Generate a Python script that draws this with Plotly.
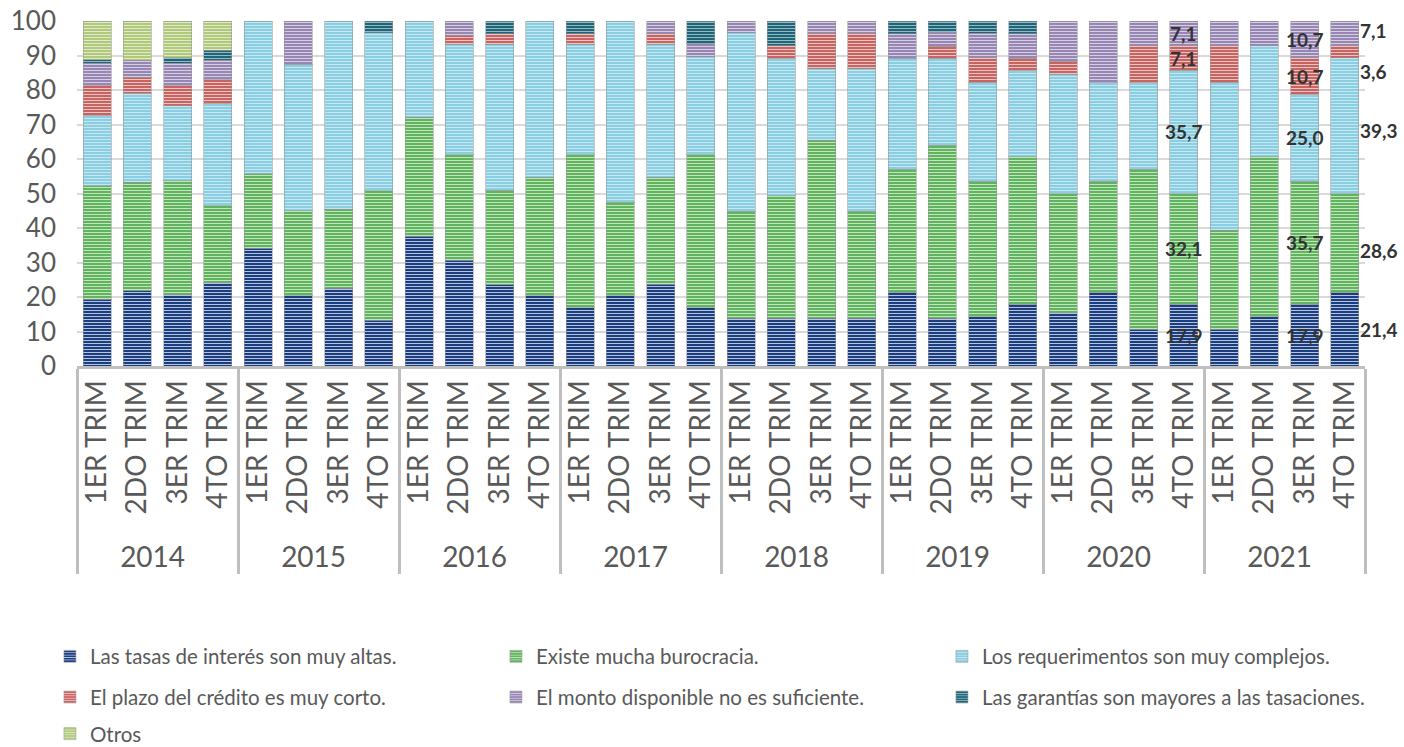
import plotly.graph_objects as go

# Categories
years = ["2014", "2015", "2016", "2017", "2018", "2019", "2020", "2021"]
quarters = ["1ER TRIM", "2DO TRIM", "3ER TRIM", "4TO TRIM"]

# Shares (%) per quarter, one list per reason
tasas = [19.4, 21.8, 20.6, 24.2,
         34.2, 20.3, 22.6, 13.3,
         37.6, 30.7, 23.5, 20.3,
         16.9, 20.3, 23.7, 16.9,
         13.8, 13.9, 13.8, 13.8,
         21.4, 13.9, 14.3, 17.9,
         15.4, 21.4, 10.7, 17.9,
         10.7, 14.3, 17.9, 21.4]
burocracia = [32.9, 31.4, 33.1, 22.3,
              21.5, 24.7, 22.9, 37.5,
              34.5, 30.6, 27.5, 34.4,
              44.4, 27.1, 31.0, 44.4,
              31.0, 35.5, 51.7, 31.0,
              35.7, 50.1, 39.3, 42.7,
              34.6, 32.1, 46.4, 32.1,
              28.6, 46.4, 35.7, 28.6]
requerimientos = [20.3, 25.9, 21.8, 29.5,
                  44.3, 42.4, 54.5, 45.8,
                  27.9, 31.9, 42.2, 45.3,
                  31.9, 52.6, 38.5, 28.4,
                  51.8, 39.7, 20.7, 41.4,
                  32.1, 25.2, 28.6, 25.0,
                  34.6, 28.6, 25.0, 35.7,
                  42.9, 32.1, 25.0, 39.3]
plazo = [8.7, 4.6, 5.8, 7.0,
         0, 0, 0, 0,
         0, 2.6, 3.1, 0,
         3.1, 0, 3.1, 0,
         0, 3.8, 10.3, 10.3,
         0, 3.5, 7.1, 3.6,
         3.8, 0, 10.7, 7.1,
         10.7, 0, 10.7, 3.6]
monto = [6.5, 4.9, 6.5, 5.6,
         0, 12.6, 0, 0,
         0, 4.2, 0, 0,
         0, 0, 3.7, 3.7,
         3.4, 0, 3.4, 3.4,
         7.1, 4.0, 7.1, 7.1,
         11.5, 17.9, 7.1, 7.1,
         7.1, 7.1, 10.7, 7.1]
garantias = [1.0, 0, 1.5, 2.9,
             0, 0, 0, 3.4,
             0, 0, 3.7, 0,
             3.7, 0, 0, 6.6,
             0, 7.1, 0, 0,
             3.6, 3.3, 3.6, 3.6,
             0, 0, 0, 0,
             0, 0, 0, 0]
otros = [11.2, 11.4, 10.7, 8.5] + [0] * 28

x_year = [y for y in years for _ in quarters]
x_quarter = [q for _ in years for q in quarters]

# name, values, dark stripe colour, light stripe colour, solidity, legend row
series = [
    ("Las tasas de interés son muy altas.", tasas, "#1D3E7E", "#B3C3E0", 0.34, "legend"),
    ("Existe mucha burocracia.", burocracia, "#4DAA4B", "#C3E5BC", 0.45, "legend"),
    ("Los requerimentos son muy complejos.", requerimientos, "#7FC8DE", "#C4E8F2", 0.45, "legend"),
    ("El plazo del crédito es muy corto.", plazo, "#C0504D", "#EDC4C2", 0.45, "legend2"),
    ("El monto disponible no es suficiente.", monto, "#8A77AA", "#D6CEE3", 0.45, "legend2"),
    ("Las garantías son mayores a las tasaciones.", garantias, "#1F6477", "#93BAC5", 0.34, "legend2"),
    ("Otros", otros, "#A6C36B", "#E0EAC8", 0.45, "legend3"),
]

FONT = "Lato, 'Open Sans', sans-serif"
TEXT_GREY = "#595959"

fig = go.Figure()
for name, vals, dark, light, sol, leg in series:
    fig.add_trace(go.Bar(
        x=[x_year, x_quarter],
        y=[v if v else None for v in vals],
        name=name,
        legend=leg,
        marker=dict(
            color=dark,
            pattern=dict(shape="-", bgcolor=dark, fgcolor=light, size=3,
                         solidity=sol, fillmode="replace"),
            line=dict(color="rgba(150,150,150,0.55)", width=1),
        ),
        hoverinfo="skip",
    ))


def fmt(v):
    return f"{v:.1f}".replace(".", ",")


# Value labels for the latest quarters
labelled = [0, 1, 2, 3, 4]
annotations = []
for idx, outside in [(27, False), (30, False), (31, True)]:
    base = 0.0
    for s_i, (name, vals, *_rest) in enumerate(series):
        v = vals[idx]
        if s_i in labelled and v:
            ann = dict(x=idx, y=base + v / 2, text=fmt(v), showarrow=False,
                       xref="x", yref="y",
                       font=dict(family=FONT, size=19, color="#333333", weight="bold"))
            if outside:
                ann.update(xanchor="left", xshift=13)
                if s_i == 1:
                    ann.update(yshift=-8)
                if s_i == 2:
                    ann.update(yshift=-5)
                if s_i == 3:
                    ann.update(yshift=-20)
                if s_i == 4:
                    ann.update(yshift=3)
            annotations.append(ann)
        base += v

legend_common = dict(
    orientation="h", xanchor="left", yanchor="middle",
    entrywidth=401, entrywidthmode="pixels", traceorder="normal",
    font=dict(family=FONT, size=20.5, color=TEXT_GREY),
    bgcolor="rgba(0,0,0,0)", itemwidth=30,
)

fig.update_layout(
    barmode="stack",
    bargap=0.31,
    width=1404, height=747,
    margin=dict(l=77, r=39, t=21, b=381, autoexpand=False),
    paper_bgcolor="white", plot_bgcolor="white",
    font=dict(family=FONT, color=TEXT_GREY),
    showlegend=True,
    legend=dict(legend_common, x=-0.021, y=-0.842),
    legend2=dict(legend_common, x=-0.021, y=-0.96),
    legend3=dict(legend_common, x=-0.021, y=-1.066),
    annotations=annotations,
    xaxis=dict(
        type="multicategory",
        range=[-0.5, len(x_year) - 0.5],
        autorange=False,
        tickangle=-90,
        tickfont=dict(family=FONT, size=28, color=TEXT_GREY),
        showline=True, linecolor="#BFBFBF", linewidth=3,
        showdividers=True, dividercolor="#BFBFBF", dividerwidth=3,
        ticks="", showgrid=False, automargin=False,
    ),
    yaxis=dict(
        range=[0, 100], dtick=10,
        tickfont=dict(family=FONT, size=26, color=TEXT_GREY),
        showgrid=True, gridcolor="#D9D9D9", gridwidth=1.5,
        zeroline=False, showline=False, ticks="",
        ticklabelstandoff=20, automargin=False,
    ),
)

fig.write_html("out.html")
